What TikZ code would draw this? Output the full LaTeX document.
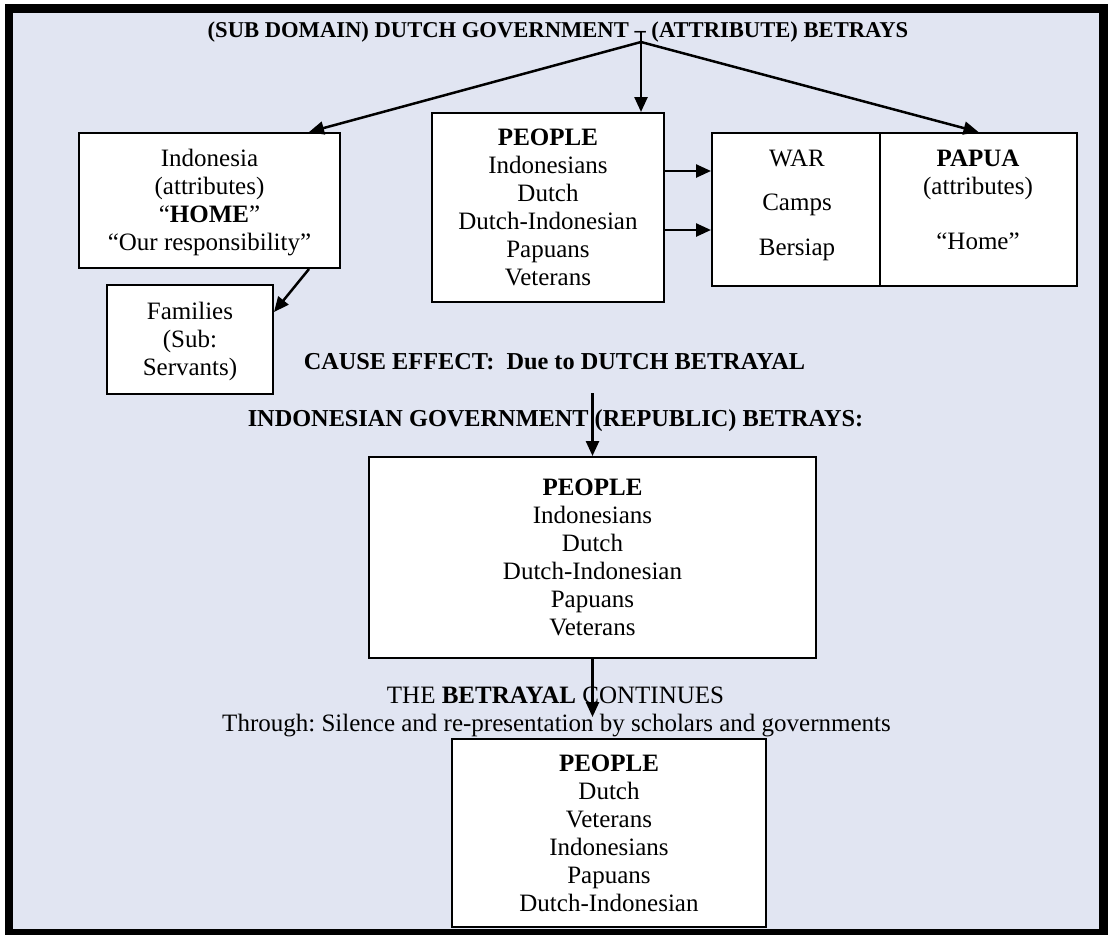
\documentclass[tikz,border=0pt]{standalone}
\usepackage{fontspec}
\setmainfont{Liberation Serif}
\usetikzlibrary{arrows.meta,calc}
\definecolor{panel}{RGB}{225,229,242}
\newcommand\bodyfont{\fontsize{25}{28}\selectfont}
\newcommand\headfont{\fontsize{24.3}{28}\selectfont\bfseries}
\newcommand\titlefont{\fontsize{22.6}{28}\selectfont\bfseries}
% one text row of fixed height, so rows sit 28pt apart and centre evenly
\newcommand\rs{\rule[-5.7pt]{0pt}{28pt}}
\frenchspacing

\begin{document}
\begin{tikzpicture}[x=1pt,y=-1pt,
  box/.style={draw=black, line width=2pt, fill=white, inner sep=0pt,
              align=center, font=\bodyfont},
  plain/.style={inner sep=0pt, align=center, font=\bodyfont},
  rowtext/.style={inner sep=0pt, font=\bodyfont, text height=16.5pt, text depth=0pt},
  head/.style={inner sep=0pt, font=\headfont, text height=16.4pt, text depth=0pt},
  arr/.style={line width=2.5pt, -{Triangle[length=15pt,width=13pt]}}]

\useasboundingbox (0,0) rectangle (1108,935);
% framed panel
\fill[white] (0,0) rectangle (1108,935);
\fill[black] (5,4) rectangle (1108,935);
\fill[panel] (13,13) rectangle (1099,929);

% headings
\node[inner sep=0pt, font=\titlefont, text height=15.3pt, text depth=0pt] (title) at (558,30)
  {(SUB DOMAIN) DUTCH GOVERNMENT – (ATTRIBUTE) BETRAYS};
\node[head] (cause) at (554.5,361) {CAUSE EFFECT:\ \ Due to DUTCH BETRAYAL};
\node[head] (indogov) at (555.5,418) {INDONESIAN GOVERNMENT (REPUBLIC) BETRAYS:};
\node[rowtext] (cont) at (555.5,695) {THE \textbf{BETRAYAL} CONTINUES};
\node[rowtext] (through) at (556.5,723)
  {Through: Silence and re-presentation by scholars and governments};

% boxes
\node[box, minimum width=261pt, minimum height=135pt] (indo) at (209.5,200.5)
  {\rs Indonesia\\ \rs (attributes)\\ \rs “\textbf{HOME}”\\ \rs “Our responsibility”};
\node[box, minimum width=166pt, minimum height=109pt] (fam) at (190,339.5)
  {\rs Families\\ \rs (Sub:\\ \rs Servants)};
\node[box, minimum width=232pt, minimum height=189pt] (ppl1) at (548,207.5)
  {\rs\textbf{PEOPLE}\\ \rs Indonesians\\ \rs Dutch\\ \rs Dutch-Indonesian\\ \rs Papuans\\ \rs Veterans};
\node[box, minimum width=168pt, minimum height=153pt] (war) at (796,209.5) {};
\node[box, minimum width=197pt, minimum height=153pt] (papua) at (978.5,209.5) {};
\node[plain] (wartext) at (797,202.5)
  {\rs WAR\\[16.5pt] \rs Camps\\[16.5pt] \rs Bersiap};
\node[plain] (paptext) at (978,200)
  {\rs\textbf{PAPUA}\\ \rs (attributes)\\[27pt] \rs “Home”};
\node[box, minimum width=447pt, minimum height=201pt] (ppl2) at (592.5,557.5)
  {\rs\textbf{PEOPLE}\\ \rs Indonesians\\ \rs Dutch\\ \rs Dutch-Indonesian\\ \rs Papuans\\ \rs Veterans};
\node[box, minimum width=314pt, minimum height=188pt] (ppl3) at (609,833)
  {\rs\textbf{PEOPLE}\\ \rs Dutch\\ \rs Veterans\\ \rs Indonesians\\ \rs Papuans\\ \rs Dutch-Indonesian};

% connector end points
\coordinate (srctop) at (641,32);
\coordinate (src) at (641,42);
\coordinate (r1) at (0,171);
\coordinate (r2) at (0,230);
\coordinate (g2) at (592.5,393);
\coordinate (tipc) at (592.5,717);

% connectors
\draw[arr] (srctop) -- (srctop |- ppl1.north);
\draw[arr] (src) -- ($(indo.north east)+(-32,0)$);
\draw[arr] (src) -- (papua.north);
\draw[arr] ($(indo.south east)+(-32,0)$) -- ($(fam.north east)+(0,28)$);
\draw[arr] (ppl1.east |- r1) -- (war.west |- r1);
\draw[arr] (ppl1.east |- r2) -- (war.west |- r2);
\draw[arr] (g2) -- (ppl2.north);
\draw[arr] (ppl2.south) -- (tipc);
\end{tikzpicture}
\end{document}
